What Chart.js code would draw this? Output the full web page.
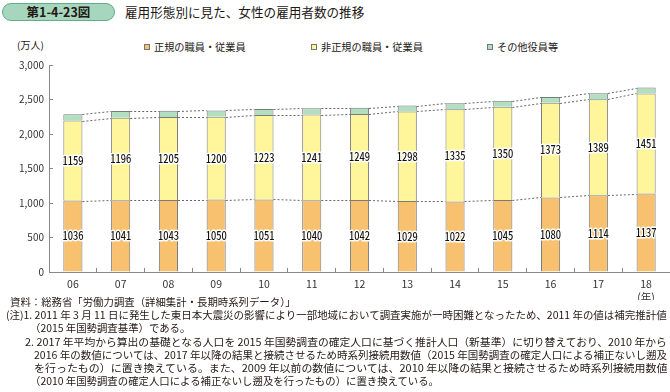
<!DOCTYPE html>
<html lang="ja">
<head>
<meta charset="utf-8">
<script src="https://cdn.jsdelivr.net/npm/chart.js@4"></script>
<style>
  body { margin: 0; width: 670px; height: 392px; background: #fff; position: relative; overflow: hidden;
         font-family: "Noto Sans CJK JP", sans-serif; color: #231815; }
  .badge { position: absolute; left: 2px; top: 3px; width: 113px; height: 18px; box-sizing: border-box;
           border: 1px solid #62ad88; border-radius: 9px; background: #a6d6bd;
           font-weight: bold; font-size: 12.5px; line-height: 16px; text-align: center; }
  .title { position: absolute; left: 125px; top: 2px; font-size: 12.6px; line-height: 20px; white-space: nowrap; }
  .unit  { position: absolute; left: 17px; top: 38px; font-size: 10px; line-height: 14px; }
  .leg   { position: absolute; top: 40px; font-size: 10.2px; line-height: 14px; white-space: nowrap; }
  .leg i { position: absolute; left: 0; top: 4px; width: 6px; height: 6px; box-sizing: border-box; border: 1px solid #777; }
  .leg span { margin-left: 10px; }
  #wrap  { position: absolute; left: 0; top: 50px; width: 670px; height: 250px; }
  .note  { position: absolute; font-size: 10.4px; line-height: 12px; white-space: nowrap; transform-origin: 0 0; }
</style>
</head>
<body>
<div class="badge">第1-4-23図</div>
<div class="title">雇用形態別に見た、女性の雇用者数の推移</div>
<div class="unit">(万人)</div>
<div class="leg" style="left:144px"><i style="background:#f7c170"></i><span>正規の職員・従業員</span></div>
<div class="leg" style="left:311px"><i style="background:#fff59a"></i><span>非正規の職員・従業員</span></div>
<div class="leg" style="left:487px"><i style="background:#b3dfc1"></i><span>その他役員等</span></div>
<div id="wrap"><canvas id="chart" width="670" height="250"></canvas></div>

<div class="note" style="left:10px;top:296px">資料：総務省「労働力調査（詳細集計・長期時系列データ）」</div>
<div class="note" style="left:6px;top:309px" data-w="661">(注)1. 2011 年 3 月 11 日に発生した東日本大震災の影響により一部地域において調査実施が一時困難となったため、2011 年の値は補完推計値</div>
<div class="note" style="left:30px;top:322px">（2015 年国勢調査基準）である。</div>
<div class="note" style="left:25px;top:336px" data-w="642">2. 2017 年平均から算出の基礎となる人口を 2015 年国勢調査の確定人口に基づく推計人口（新基準）に切り替えており、2010 年から</div>
<div class="note" style="left:34px;top:349px" data-w="633">2016 年の数値については、2017 年以降の結果と接続させるため時系列接続用数値（2015 年国勢調査の確定人口による補正ないし遡及</div>
<div class="note" style="left:34px;top:362px" data-w="633">を行ったもの）に置き換えている。また、2009 年以前の数値については、2010 年以降の結果と接続させるため時系列接続用数値</div>
<div class="note" style="left:30px;top:375px">（2010 年国勢調査の確定人口による補正ないし遡及を行ったもの）に置き換えている。</div>

<script>
// 年（最後のラベルに単位）
const years = ['06', '07', '08', '09', '10', '11', '12', '13', '14', '15', '16', '17', ['18', '(年)']];

// 万人
const regular    = [1036, 1041, 1043, 1050, 1051, 1040, 1042, 1029, 1022, 1045, 1080, 1114, 1137];
const nonRegular = [1159, 1196, 1205, 1200, 1223, 1241, 1249, 1298, 1335, 1350, 1373, 1389, 1451];
const officers   = [92, 95, 90, 92, 90, 92, 88, 85, 88, 88, 85, 88, 85];

const yTicks = [0, 500, 1000, 1500, 2000, 2500, 3000];

const seriesNames  = ['正規の職員・従業員', '非正規の職員・従業員', 'その他役員等'];
const seriesColors = ['#f7c170', '#fff59a', '#b3dfc1'];

Chart.defaults.font.family = '"Noto Sans CJK JP", sans-serif';
Chart.defaults.color = '#333';

// ── 棒と棒をつなぐ点線 ──
const connectorLines = {
    id: 'connectorLines',
    afterDatasetsDraw(chart) {
        const ctx = chart.ctx;
        ctx.save();
        ctx.strokeStyle = '#666';
        ctx.lineWidth = 1;
        ctx.setLineDash([2, 2]);
        chart.data.datasets.forEach((ds, di) => {
            const bars = chart.getDatasetMeta(di).data;
            for (let i = 0; i < bars.length - 1; i++) {
                const a = bars[i], b = bars[i + 1];
                ctx.beginPath();
                ctx.moveTo(a.x + a.width / 2, Math.round(a.y) + 0.5);
                ctx.lineTo(b.x - b.width / 2, Math.round(b.y) + 0.5);
                ctx.stroke();
            }
        });
        ctx.restore();
    }
};

// ── 数値ラベル（白フチ） ──
const segmentLabels = {
    id: 'segmentLabels',
    afterDatasetsDraw(chart) {
        const ctx = chart.ctx;
        ctx.save();
        ctx.font = '500 11.5px "Noto Sans CJK JP"';
        ctx.textAlign = 'center';
        ctx.textBaseline = 'middle';
        ctx.lineJoin = 'round';
        [0, 1].forEach(di => {
            chart.getDatasetMeta(di).data.forEach((bar, i) => {
                const txt = String(chart.data.datasets[di].data[i]);
                ctx.save();
                ctx.translate(bar.x, (bar.y + bar.base) / 2);
                ctx.scale(0.8, 1);
                ctx.strokeStyle = '#fff';
                ctx.lineWidth = 3;
                ctx.strokeText(txt, 0, 0);
                ctx.fillStyle = '#111';
                ctx.fillText(txt, 0, 0);
                ctx.restore();
            });
        });
        ctx.restore();
    }
};

new Chart(document.getElementById('chart'), {
    type: 'bar',
    data: {
        labels: years,
        datasets: [regular, nonRegular, officers].map((data, i) => ({
            label: seriesNames[i],
            data,
            backgroundColor: seriesColors[i],
            borderColor: '#7a7a7a',
            borderWidth: 1,
            barPercentage: 0.4,
            categoryPercentage: 1,
        })),
    },
    options: {
        responsive: false,
        animation: false,
        layout: { padding: { top: 11, right: 0, bottom: 0, left: 0 } },
        plugins: {
            legend: { display: false },
            tooltip: { enabled: false },
        },
        scales: {
            x: {
                stacked: true,
                grid: { offset: true, drawOnChartArea: false, tickLength: -4, color: '#888' },
                border: { color: '#888' },
                ticks: { font: { size: 10.5 }, padding: 10, maxRotation: 0, autoSkip: false },
                afterFit: s => { s.height = 28; },
            },
            y: {
                stacked: true,
                min: 0,
                max: 3000,
                afterBuildTicks: s => { s.ticks = yTicks.map(v => ({ value: v })); },
                grid: { drawOnChartArea: false, tickLength: -4, color: '#888' },
                border: { color: '#888' },
                ticks: {
                    font: { size: 10 },
                    padding: 9,
                    callback: v => v.toLocaleString('en-US'),
                },
                afterFit: s => { s.width = 49; },
            },
        },
    },
    plugins: [connectorLines, segmentLabels],
});

// 注記の幅を元図に合わせる
document.querySelectorAll('.note[data-w]').forEach(el => {
    const w = parseFloat(el.dataset.w);
    el.style.transform = `scaleX(${w / el.scrollWidth})`;
});
</script>
</body>
</html>
